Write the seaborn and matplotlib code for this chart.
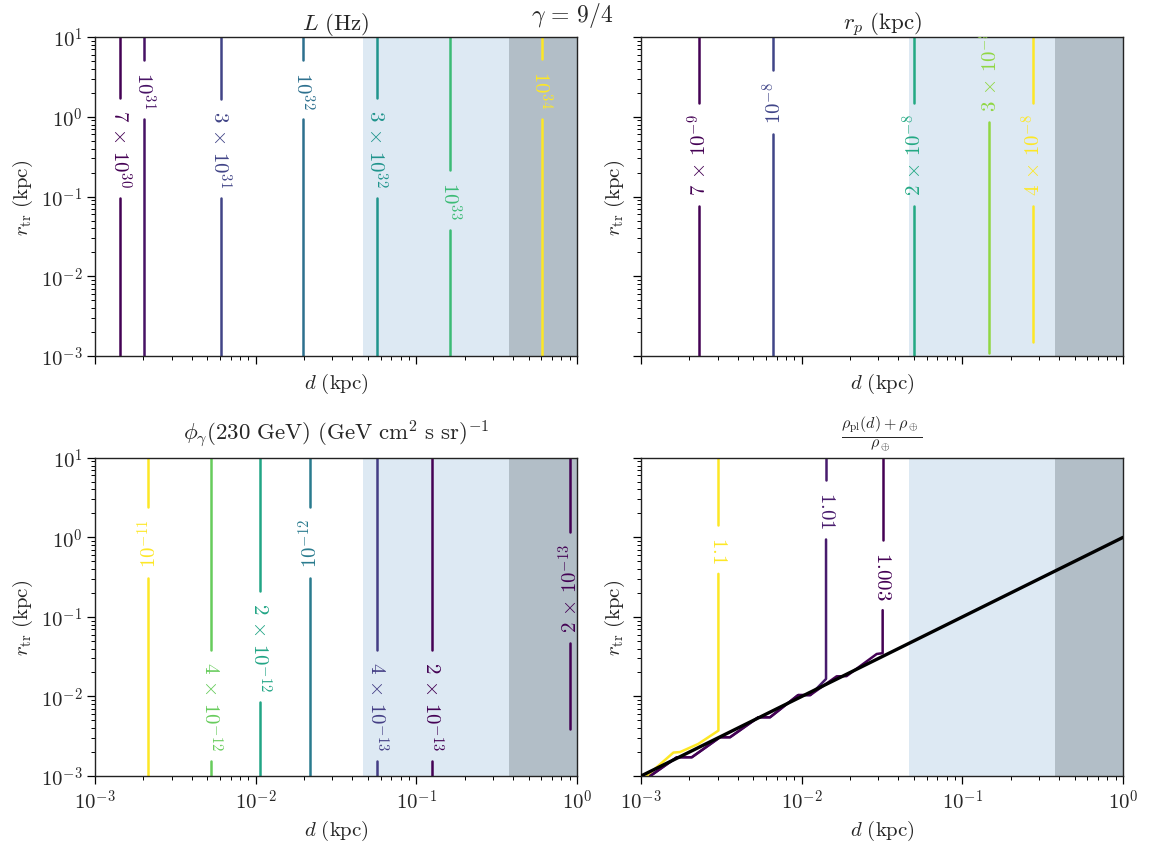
import matplotlib
matplotlib.use("Agg")
import matplotlib.pyplot as plt
import matplotlib.colors as mcolors
from matplotlib.ticker import LogLocator, FuncFormatter, NullFormatter
import seaborn as sns
import numpy as np

sns.set_style("ticks")
plt.rcParams['font.family'] = ['DejaVu Serif']
plt.rcParams['mathtext.fontset'] = 'cm'

# shaded d ranges (kpc)
blue_span = [0.0464, 0.378]
gray_span = [0.378, 1.0]

# panel 1: L (Hz)
L_levels = [7e30, 1e31, 3e31, 1e32, 3e32, 1e33, 1e34]
L_labels = [r'$7\,\times\,10^{30}$', r'$10^{31}$', r'$3\,\times\,10^{31}$', r'$10^{32}$',
            r'$3\,\times\,10^{32}$', r'$10^{33}$', r'$10^{34}$']
L_d = [1.43e-3, 2.03e-3, 6.05e-3, 1.98e-2, 5.67e-2, 0.162, 0.602]
L_r_low = [1e-3, 1e-3, 1e-3, 1e-3, 1e-3, 1e-3, 1e-3]
L_label_r = [0.405, 2.2, 0.405, 2.2, 0.405, 0.090, 2.2]
L_rot = [270, 270, 270, 270, 270, 270, 270]

# panel 2: r_p (kpc)
rp_levels = [7e-9, 1e-8, 2e-8, 3e-8, 4e-8]
rp_labels = [r'$7\,\times\,10^{-9}$', r'$10^{-8}$', r'$2\,\times\,10^{-8}$',
             r'$3\,\times\,10^{-8}$', r'$4\,\times\,10^{-8}$']
rp_d = [2.3e-3, 6.66e-3, 5.0e-2, 0.147, 0.276]
rp_r_low = [1e-3, 1e-3, 1e-3, 1.09e-3, 1.5e-3]
rp_label_r = [0.336, 1.53, 0.336, 3.9, 0.336]
rp_rot = [90, 90, 90, 90, 90]

# panel 3: phi_gamma(230 GeV)
phi_levels = [1e-11, 4e-12, 2e-12, 1e-12, 4e-13, 2e-13, 2e-13]
phi_labels = [r'$10^{-11}$', r'$4\,\times\,10^{-12}$', r'$2\,\times\,10^{-12}$', r'$10^{-12}$',
              r'$4\,\times\,10^{-13}$', r'$2\,\times\,10^{-13}$', r'$2\,\times\,10^{-13}$']
phi_d = [2.15e-3, 5.3e-3, 1.07e-2, 2.18e-2, 5.71e-2, 0.126, 0.904]
phi_r_low = [1e-3, 1e-3, 1e-3, 1e-3, 1e-3, 1e-3, 3.9e-3]
phi_label_r = [0.865, 7.8e-3, 0.0425, 0.865, 7.8e-3, 7.8e-3, 0.232]
phi_rot = [90, 270, 270, 90, 270, 270, 90]

# panel 4: density ratio, contours bend onto r_tr = d
rho_levels = [1.1, 1.01, 1.003]
rho_labels = [r'$1.1$', r'$1.01$', r'$1.003$']
rho_path_d = [
    [1.085e-3, 1.59e-3, 1.75e-3, 2.27e-3, 3.03e-3, 3.03e-3],
    [1.14e-3, 1.67e-3, 2.07e-3, 3.1e-3, 3.58e-3, 5.37e-3, 6.35e-3, 9.5e-3, 1.13e-2,
     1.417e-2, 1.417e-2],
    [1.14e-3, 1.67e-3, 2.07e-3, 3.1e-3, 3.58e-3, 5.37e-3, 6.35e-3, 9.5e-3, 1.13e-2,
     1.65e-2, 1.9e-2, 2.93e-2, 3.19e-2, 3.19e-2],
]
rho_path_r = [
    [1.0e-3, 1.97e-3, 2.0e-3, 2.53e-3, 3.72e-3, 10],
    [1.0e-3, 1.72e-3, 1.72e-3, 3.07e-3, 3.07e-3, 5.47e-3, 5.47e-3, 1.04e-2, 1.04e-2,
     1.66e-2, 10],
    [1.0e-3, 1.72e-3, 1.72e-3, 3.07e-3, 3.07e-3, 5.47e-3, 5.47e-3, 1.04e-2, 1.04e-2,
     1.79e-2, 1.8e-2, 3.42e-2, 3.5e-2, 10],
]
rho_label_r = [0.706, 2.22, 0.337]
rho_rot = [270, 270, 270]
edge_d = [1e-3, 1.0]
edge_r = [1e-3, 1.0]

FS = 15
TITLE_FS = 16.5
LABEL_FS = 15
LW = 1.8
GAP_PAD = 11

fig = plt.figure(figsize=(11.53, 8.45), dpi=100)
ax_tl = fig.add_axes([0.0824, 0.5775, 0.418, 0.3775])
ax_tr = fig.add_axes([0.556, 0.5775, 0.418, 0.3775], sharex=ax_tl, sharey=ax_tl)
ax_bl = fig.add_axes([0.0824, 0.0805, 0.418, 0.3765], sharex=ax_tl, sharey=ax_tl)
ax_br = fig.add_axes([0.556, 0.0805, 0.418, 0.3765], sharex=ax_tl, sharey=ax_tl)
axes = [ax_tl, ax_tr, ax_bl, ax_br]

fmt = FuncFormatter(lambda v, p: r'$10^{%d}$' % int(round(np.log10(v))))
for ax in axes:
    ax.set_xscale('log')
    ax.set_yscale('log')
    ax.set_xlim(1e-3, 1)
    ax.set_ylim(1e-3, 10)
    ax.axvspan(blue_span[0], blue_span[1], color='#dde9f3', lw=0, zorder=0)
    ax.axvspan(gray_span[0], gray_span[1], color='#b2bec7', lw=0, zorder=0)
    ax.xaxis.set_major_locator(LogLocator(base=10, numticks=10))
    ax.yaxis.set_major_locator(LogLocator(base=10, numticks=10))
    ax.xaxis.set_minor_locator(LogLocator(base=10, subs=np.arange(2, 10), numticks=10))
    ax.yaxis.set_minor_locator(LogLocator(base=10, subs=np.arange(2, 10), numticks=10))
    ax.xaxis.set_major_formatter(fmt)
    ax.yaxis.set_major_formatter(fmt)
    ax.xaxis.set_minor_formatter(NullFormatter())
    ax.yaxis.set_minor_formatter(NullFormatter())
    ax.tick_params(which='major', length=5.5, width=0.9, labelsize=FS, color='black')
    ax.tick_params(which='minor', length=3, width=0.7, color='black')
    for s in ax.spines.values():
        s.set_linewidth(1.0)
        s.set_color('#222222')
    ax.set_xlabel(r'$d\ \mathrm{(kpc)}$', fontsize=FS)
    ax.set_ylabel(r'$r_{\mathrm{tr}}\ \mathrm{(kpc)}$', fontsize=FS)

ax_tl.tick_params(labelbottom=False)
ax_tr.tick_params(labelbottom=False, labelleft=False)
ax_br.tick_params(labelleft=False)

renderer = fig.canvas.get_renderer()
cmap = plt.get_cmap('viridis')


def draw_contours(ax, paths_d, paths_r, levels, labels, label_r, rots, norm):
    inv = ax.transData.inverted()
    for pd_, pr_, lev, lab, rl, rot in zip(paths_d, paths_r, levels, labels, label_r, rots):
        c = cmap(norm(lev))
        dv = pd_[-1]
        t = ax.text(dv, rl, lab, color=c, fontsize=LABEL_FS, rotation=rot,
                    ha='center', va='center', clip_on=True, zorder=3)
        bb = t.get_window_extent(renderer)
        xc, yc = ax.transData.transform((dv, rl))
        lo = inv.transform((xc, yc - bb.height / 2 - GAP_PAD))[1]
        hi = inv.transform((xc, yc + bb.height / 2 + GAP_PAD))[1]
        ax.plot(list(pd_[:-1]) + [dv], list(pr_[:-1]) + [lo], color=c, lw=LW, zorder=2)
        if hi < pr_[-1]:
            ax.plot([dv, dv], [hi, pr_[-1]], color=c, lw=LW, zorder=2)


def vertical_paths(d_vals, r_low):
    return [[d, d] for d in d_vals], [[r, 10] for r in r_low]


pd_, pr_ = vertical_paths(L_d, L_r_low)
draw_contours(ax_tl, pd_, pr_, L_levels, L_labels, L_label_r, L_rot,
              mcolors.LogNorm(min(L_levels), max(L_levels)))
pd_, pr_ = vertical_paths(rp_d, rp_r_low)
draw_contours(ax_tr, pd_, pr_, rp_levels, rp_labels, rp_label_r, rp_rot,
              mcolors.LogNorm(min(rp_levels), max(rp_levels)))
pd_, pr_ = vertical_paths(phi_d, phi_r_low)
draw_contours(ax_bl, pd_, pr_, phi_levels, phi_labels, phi_label_r, phi_rot,
              mcolors.LogNorm(min(phi_levels), max(phi_levels)))
draw_contours(ax_br, rho_path_d, rho_path_r, rho_levels, rho_labels, rho_label_r, rho_rot,
              mcolors.Normalize(min(rho_levels), max(rho_levels)))
sns.lineplot(x=edge_d, y=edge_r, ax=ax_br, color='black', lw=2.4, zorder=4)

ax_tl.set_title(r'$L\ \mathrm{(Hz)}$', fontsize=TITLE_FS)
ax_tr.set_title(r'$r_p\ \mathrm{(kpc)}$', fontsize=TITLE_FS)
ax_bl.set_title(r'$\phi_\gamma(230\ \mathrm{GeV})\ (\mathrm{GeV\ cm^2\ s\ sr})^{-1}$',
                fontsize=TITLE_FS, pad=13)
ax_br.set_title(r'$\frac{\rho_{\mathrm{pl}}(d)+\rho_\oplus}{\rho_\oplus}$',
                fontsize=TITLE_FS, pad=13)
fig.text(0.496, 1 - 16 / 845, r'$\gamma\,=\,9/4$', ha='center', va='center', fontsize=17)

fig.savefig('out.png', dpi=100)
